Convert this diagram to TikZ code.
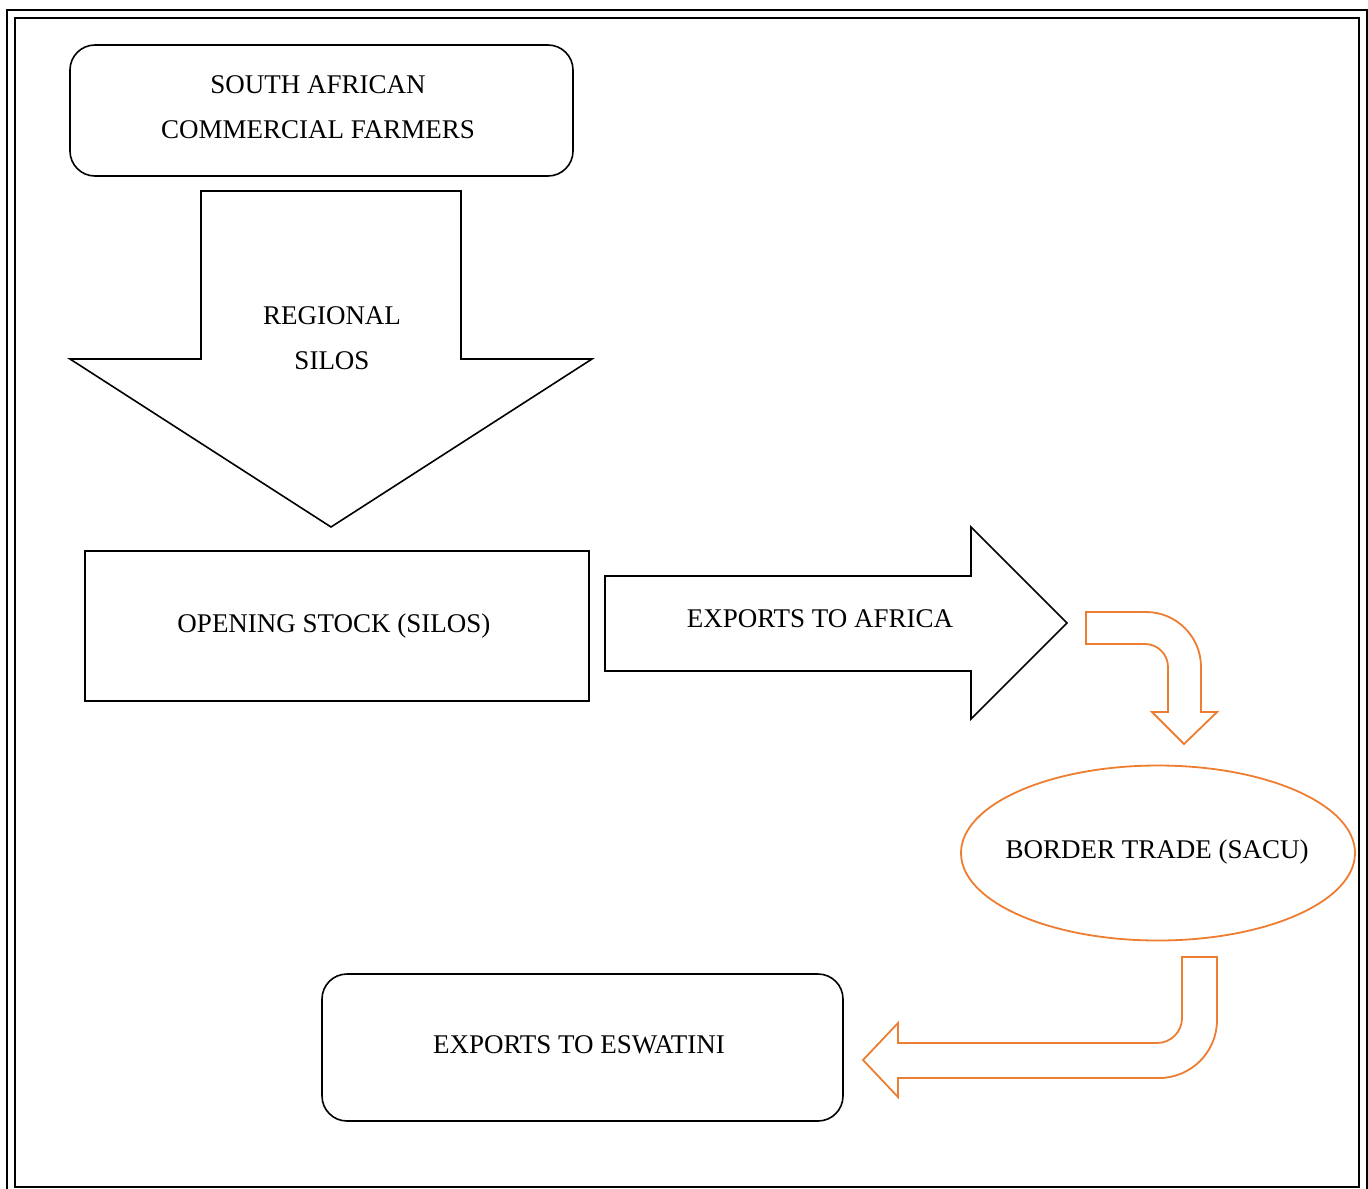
\documentclass[tikz,border=0pt]{standalone}
\usepackage{fontspec}
\setmainfont{Liberation Serif}
\usetikzlibrary{shapes.geometric}
\usetikzlibrary{positioning}
\definecolor{accentorange}{RGB}{237,125,49}

\begin{document}
\begin{tikzpicture}[x=0.5pt, y=-0.5pt,
            font=\fontsize{13.5}{22.8}\selectfont,
            line width=0.8pt,
            roundbox/.style={draw, rounded corners=12.5pt, align=center},
            plainbox/.style={draw, align=center},
            blockarrow/.style={draw, line join=miter},
            bentarrow/.style={draw=accentorange, line width=0.9pt},
            label/.style={align=center, inner sep=0pt}]
            \useasboundingbox (0,0) rectangle (1368,1188);

            % page frame
            \draw[line width=1pt] (7,10) rectangle (1367,1210);
            \draw[line width=1pt] (15,18) rectangle (1359,1187);

            \node[roundbox,
            minimum width = 251.5pt,
            minimum height = 65.5pt] (farmers) at (321.5,110.5) {};
            \node[label] (farmerstext) at (318,107) {SOUTH AFRICAN\\COMMERCIAL FARMERS};

            % down arrow
            \draw[blockarrow] (201,191) -- (461,191) -- (461,359) -- (592,359)
            -- (331,527) -- (70,359) -- (201,359) -- cycle;
            \node[label] (silos) at (332,338) {REGIONAL\\SILOS};

            \node[plainbox,
            minimum width = 252pt,
            minimum height = 75pt] (opening) at (337,626) {};
            \node[label] (openingtext) at (334,626) {OPENING STOCK (SILOS)};

            % right arrow
            \draw[blockarrow] (605,576) -- (971,576) -- (971,527) -- (1067,623)
            -- (971,719) -- (971,671) -- (605,671) -- cycle;
            \node[label] (africa) at (820,619) {EXPORTS TO AFRICA};

            % bent arrow down
            \draw[bentarrow] (1086,612) -- (1146,612) arc (90:0:27.5pt)
            -- (1201,712) -- (1217,712) -- (1184,744) -- (1152,712) -- (1168,712)
            -- (1168,667) arc (0:90:11.5pt) -- (1086,644) -- cycle;

            \node[ellipse,
            draw = accentorange,
            line width = 0.9pt,
            minimum width = 197pt,
            minimum height = 87.5pt] (border) at (1158,853) {};
            \node[label] (bordertext) at (1157,852) {BORDER TRADE (SACU)};

            % bent arrow left
            \draw[bentarrow] (1182,957) -- (1217,957) -- (1217,1020) arc (0:-90:29pt)
            -- (898,1078) -- (898,1097) -- (863,1060) -- (898,1023) -- (898,1043)
            -- (1157,1043) arc (-90:0:12.5pt) -- cycle;

            \node[roundbox,
            minimum width = 260.5pt,
            minimum height = 73.5pt] (eswatini) at (582.5,1047.5) {};
            \node[label] (eswatinitext) at (579,1045) {EXPORTS TO ESWATINI};
        \end{tikzpicture}
\end{document}
